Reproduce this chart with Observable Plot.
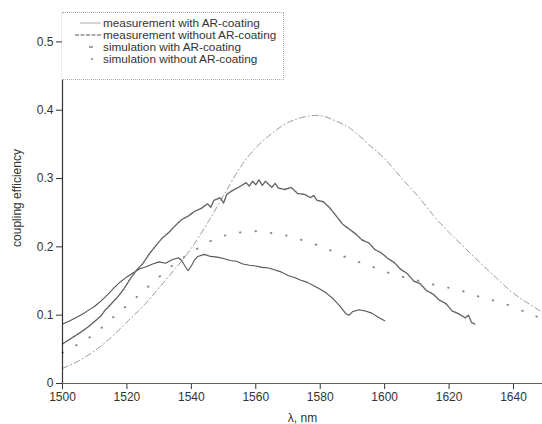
<!DOCTYPE html>
<html>
<head>
<meta charset="utf-8">
<script src="https://cdn.jsdelivr.net/npm/d3@7"></script>
<script src="https://cdn.jsdelivr.net/npm/@observablehq/plot@0.6"></script>
<style>
  html, body { margin: 0; padding: 0; background: #fff; }
  #wrap { position: relative; width: 542px; height: 424px; font-family: "Liberation Sans", Arial, sans-serif; }
  #legend { position: absolute; left: 62px; top: 12px; width: 222px; height: 68px; border: 1px dotted #aaa; border-left: none; box-sizing: border-box; background: #fff; }
  .row { position: absolute; left: 0; height: 12px; line-height: 12px; font-size: 10.5px; color: #333; white-space: nowrap; }
  .row svg { position: absolute; left: 0; top: 0; width: 40px; height: 12px; }
  .row span { position: absolute; left: 41px; top: 0; line-height: 12px; transform: scaleX(1.12); transform-origin: 0 50%; }
</style>
</head>
<body>
<div id="wrap"></div>
<script>
// ---- data ----
const measWithLambda = [1500,1502,1504,1506,1508,1510,1512,1513,1515,1517,1519,1521,1523,1525,1527,1529,1531,1533,1535,1537,1539,1541,1543,1545,1546,1547,1549,1550,1551,1553,1555,1557,1558,1559,1560,1561,1562,1563,1565,1566,1567,1569,1571,1573,1575,1577,1578,1579,1581,1583,1585,1587,1589,1591,1593,1595,1597,1599,1601,1603,1605,1607,1609,1611,1613,1615,1617,1619,1621,1623,1625,1626,1627,1628];
const measWithValue  = [0.058,0.064,0.070,0.076,0.083,0.091,0.099,0.106,0.116,0.126,0.138,0.153,0.166,0.176,0.190,0.202,0.213,0.221,0.231,0.240,0.245,0.252,0.256,0.263,0.258,0.268,0.272,0.264,0.277,0.283,0.288,0.294,0.289,0.296,0.291,0.298,0.290,0.296,0.287,0.293,0.286,0.284,0.287,0.278,0.277,0.272,0.275,0.268,0.266,0.257,0.245,0.233,0.226,0.219,0.210,0.206,0.196,0.191,0.183,0.177,0.167,0.161,0.150,0.146,0.136,0.131,0.122,0.117,0.106,0.102,0.096,0.100,0.089,0.087];

const measWithoutLambda = [1500,1502,1504,1506,1508,1510,1512,1514,1516,1518,1520,1522,1524,1526,1528,1530,1532,1534,1536,1537,1538,1539,1540,1541,1542,1544,1546,1548,1550,1552,1554,1556,1558,1560,1562,1564,1566,1568,1570,1572,1574,1576,1578,1580,1582,1584,1586,1588,1589,1590,1592,1594,1596,1598,1600];
const measWithoutValue  = [0.087,0.091,0.096,0.101,0.107,0.113,0.121,0.130,0.140,0.149,0.156,0.162,0.168,0.171,0.175,0.178,0.176,0.181,0.184,0.180,0.172,0.165,0.172,0.181,0.186,0.189,0.186,0.185,0.183,0.180,0.179,0.175,0.173,0.172,0.170,0.169,0.166,0.163,0.158,0.155,0.151,0.148,0.143,0.138,0.132,0.124,0.114,0.102,0.100,0.105,0.108,0.106,0.103,0.097,0.092];

const simWithLambda = [1500,1505,1510,1515,1520,1525,1530,1535,1540,1545,1550,1555,1560,1565,1570,1575,1580,1585,1590,1595,1600,1605,1610,1615,1620,1625,1630,1635,1640,1645,1649];
const simWithValue  = [0.022,0.033,0.048,0.067,0.090,0.113,0.140,0.168,0.198,0.235,0.275,0.315,0.345,0.366,0.382,0.390,0.392,0.384,0.371,0.350,0.329,0.302,0.276,0.247,0.221,0.198,0.175,0.153,0.132,0.116,0.104];

const simWithoutLambda = [1500,1505,1510,1515,1520,1525,1530,1535,1540,1545,1550,1555,1560,1565,1570,1575,1580,1585,1590,1595,1600,1605,1610,1615,1620,1625,1630,1635,1640,1645,1649];
const simWithoutValue  = [0.045,0.058,0.073,0.094,0.114,0.135,0.156,0.176,0.192,0.206,0.216,0.221,0.223,0.220,0.216,0.209,0.201,0.191,0.181,0.173,0.164,0.157,0.151,0.145,0.140,0.134,0.126,0.120,0.112,0.102,0.095];

const xTicks = [1500,1520,1540,1560,1580,1600,1620,1640];
const yTicks = [0,0.1,0.2,0.3,0.4,0.5];
const seriesNames = ["measurement with AR-coating","measurement without AR-coating","simulation with AR-coating","simulation without AR-coating"];

const toRows = (xs, ys) => xs.map((x, i) => ({x, y: ys[i]}));

const chart = Plot.plot({
  width: 542,
  height: 424,
  marginLeft: 62,
  marginRight: 0,
  marginTop: 12,
  marginBottom: 41,
  style: {fontFamily: "'Liberation Sans', Arial, sans-serif", fontSize: "12px", color: "#333", background: "#fff"},
  x: {domain: [1500, 1649], ticks: xTicks, tickFormat: d => String(d), label: "λ, nm", labelAnchor: "center", labelOffset: 38, labelArrow: "none"},
  y: {domain: [0, 0.543], ticks: yTicks, tickFormat: d => d === 0 ? "0" : d.toFixed(1), label: "coupling efficiency", labelAnchor: "center", labelOffset: 50, labelArrow: "none"},
  marks: [
    Plot.line(toRows(simWithoutLambda, simWithoutValue), {x: "x", y: "y", stroke: "#8a8a8a", strokeWidth: 2, strokeDasharray: "0.5,15", strokeLinecap: "round", curve: "natural"}),
    Plot.line(toRows(simWithLambda, simWithValue), {x: "x", y: "y", stroke: "#9a9a9a", strokeWidth: 1, strokeDasharray: "6,3,1,3", curve: "natural"}),
    Plot.line(toRows(measWithoutLambda, measWithoutValue), {x: "x", y: "y", stroke: "#555", strokeWidth: 1.1}),
    Plot.line(toRows(measWithLambda, measWithValue), {x: "x", y: "y", stroke: "#666", strokeWidth: 1.4, strokeDasharray: "3,1"}),
    Plot.ruleX([1500], {stroke: "#333", strokeWidth: 1.2}),
    Plot.ruleY([0], {stroke: "#6b5f57", strokeWidth: 1.2})
  ]
});

const wrap = document.getElementById("wrap");
wrap.appendChild(chart);

// legend inside the plot frame
const legend = document.createElement("div");
legend.id = "legend";
const swatches = [
  '<line x1="18" y1="6" x2="39" y2="6" stroke="#aaa" stroke-width="1"/>',
  '<line x1="13" y1="6" x2="39" y2="6" stroke="#555" stroke-width="1" stroke-dasharray="4,1.5"/>',
  '<line x1="27" y1="6" x2="31" y2="6" stroke="#666" stroke-width="1.2"/>',
  '<circle cx="30" cy="6" r="0.9" fill="#777"/>'
];
const rowTops = [3.7, 15.7, 27.7, 40];
seriesNames.forEach((name, i) => {
  const r = document.createElement("div");
  r.className = "row";
  r.style.top = rowTops[i] + "px";
  r.innerHTML = '<svg viewBox="0 0 40 12">' + swatches[i] + '</svg><span>' + name + '</span>';
  legend.appendChild(r);
});
wrap.appendChild(legend);
</script>
</body>
</html>
